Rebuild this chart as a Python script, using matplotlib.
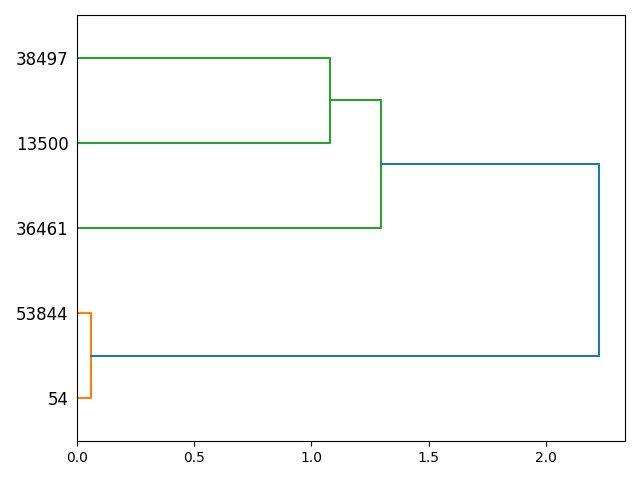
import matplotlib
matplotlib.use("Agg")
import matplotlib.pyplot as plt

# Leaves, bottom to top
leaf_labels = ["54", "53844", "36461", "13500", "38497"]
# Merges: (left child, right child, height, color); children index leaves (0..4) or prior merges (5..)
merge_left = [0, 3, 2, 5]
merge_right = [1, 4, 6, 7]
merge_height = [0.06, 1.078, 1.296, 2.226]
merge_color = ["#ff7f0e", "#2ca02c", "#2ca02c", "#1f77b4"]

fig, ax = plt.subplots(figsize=(6.4, 4.8), dpi=100)

n = len(leaf_labels)
pos = {i: 5 + 10 * i for i in range(n)}
hgt = {i: 0.0 for i in range(n)}
for k, (a, b, h, c) in enumerate(zip(merge_left, merge_right, merge_height, merge_color)):
    ya, yb = pos[a], pos[b]
    ax.plot([hgt[a], h, h, hgt[b]], [ya, ya, yb, yb], color=c, linewidth=1.5)
    pos[n + k] = (ya + yb) / 2
    hgt[n + k] = h

ax.set_ylim(0, 10 * n)
ax.set_xlim(0, max(merge_height) * 1.05)
ax.set_yticks([5 + 10 * i for i in range(n)])
ax.set_yticklabels(leaf_labels, fontsize=12)
ax.tick_params(axis="y", length=0, pad=6)

fig.subplots_adjust(left=0.12, right=0.977, top=0.969, bottom=0.081)
fig.savefig("out.png")
